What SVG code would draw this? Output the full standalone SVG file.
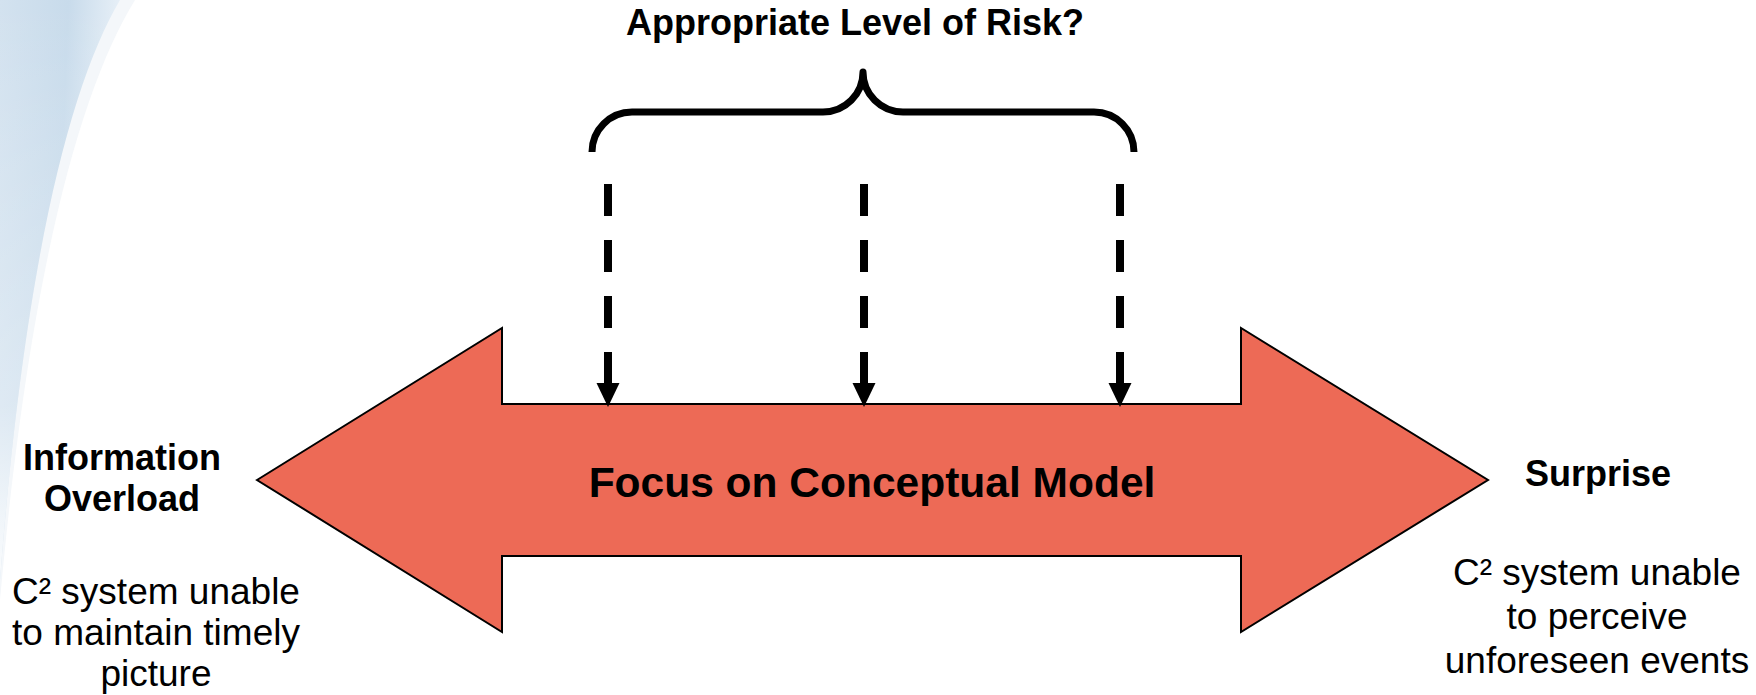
<svg xmlns="http://www.w3.org/2000/svg" width="1756" height="695" viewBox="0 0 1756 695">
<style>
.t{font-family:"Liberation Sans",Arial,sans-serif;fill:#000;text-anchor:middle}
.b{font-weight:bold}
.dash{stroke:#000;stroke-width:8;stroke-dasharray:32 24;fill:none}
</style>
<defs>
<linearGradient id="bg" x1="0" y1="0" x2="1" y2="0.2">
<stop offset="0" stop-color="#d3e2ef"/>
<stop offset="0.55" stop-color="#c8dbeb"/>
<stop offset="1" stop-color="#e9f1f8"/>
</linearGradient>
<linearGradient id="fade" x1="0" y1="0" x2="0" y2="1">
<stop offset="0" stop-color="#fff" stop-opacity="0"/>
<stop offset="0.7" stop-color="#fff" stop-opacity="0.3"/>
<stop offset="1" stop-color="#fff" stop-opacity="0.9"/>
</linearGradient>
<marker id="ah" viewBox="0 -12 24 24" refX="0" refY="0" markerWidth="24" markerHeight="24" markerUnits="userSpaceOnUse" orient="auto">
<path d="M0,-11.5 L24,0 L0,11.5 Z" fill="#000"/>
</marker>
</defs>
<rect width="1756" height="695" fill="#fff"/>
<g id="background">
<path d="M0,0 L135,0 C80,90 30,270 0,600 Z" fill="#f4f7fa"/>
<path d="M0,0 L120,0 C70,85 25,260 0,580 Z" fill="url(#bg)"/>
<path d="M0,0 L120,0 C70,85 25,260 0,580 Z" fill="url(#fade)"/>
</g>
<g id="double-arrow">
<polygon points="257,480 502,328 502,404 1241,404 1241,328 1488,480 1241,632 1241,556 502,556 502,632" fill="#ed6a56" stroke="#000" stroke-width="2" stroke-linejoin="miter"/>
<text class="t b" x="872" y="497" font-size="42.5">Focus on Conceptual Model</text>
</g>
<g id="brace">
<path d="M592,152 A40,40 0 0 1 632,112 L823,112 A40,40 0 0 0 863,72 A40,40 0 0 0 903,112 L1094,112 A40,40 0 0 1 1134,152" fill="none" stroke="#000" stroke-width="7" stroke-linejoin="round"/>
<text class="t b" x="855" y="35" font-size="36">Appropriate Level of Risk?</text>
</g>
<g id="left-label">
<text class="t b" x="122" y="470" font-size="36">Information</text>
<text class="t b" x="122" y="511" font-size="36">Overload</text>
<text class="t" x="156" y="604" font-size="37">C² system unable</text>
<text class="t" x="156" y="645" font-size="37">to maintain timely</text>
<text class="t" x="156" y="686" font-size="37">picture</text>
</g>
<g id="right-label">
<text class="t b" x="1598" y="486" font-size="36">Surprise</text>
<text class="t" x="1597" y="585" font-size="37">C² system unable</text>
<text class="t" x="1597" y="629" font-size="37">to perceive</text>
<text class="t" x="1597" y="673" font-size="37">unforeseen events</text>
</g>
<g id="connectors">
<line class="dash" x1="608" y1="184" x2="608" y2="383" marker-end="url(#ah)"/>
<line class="dash" x1="864" y1="184" x2="864" y2="383" marker-end="url(#ah)"/>
<line class="dash" x1="1120" y1="184" x2="1120" y2="383" marker-end="url(#ah)"/>
</g>
</svg>
